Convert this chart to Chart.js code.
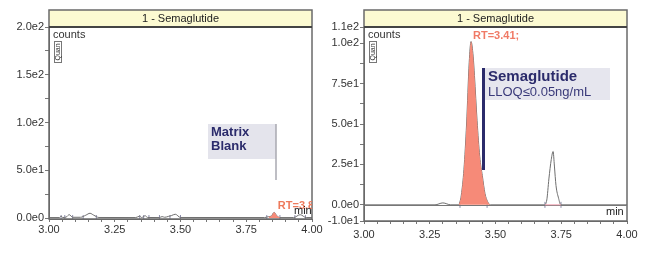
<!doctype html>
<html lang="en">

<head>
  <meta charset="utf-8">
  <title>Semaglutide chromatograms</title>
  <style>
    body { margin: 0; background: #fff; }
    .panel { position: absolute; top: 0; width: 325px; height: 255px; }
  </style>
</head>

<body>

  <div class="panel" style="left:0"><canvas id="blank-chart" width="325" height="255"></canvas></div>
  <div class="panel" style="left:325px"><canvas id="lloq-chart" width="325" height="255"></canvas></div>

  <script src="https://cdn.jsdelivr.net/npm/chart.js"></script>

  <script>
    // matrix blank trace (time in min, counts)
    const blankTimes = [3.00, 3.04, 3.046, 3.052, 3.065, 3.077, 3.09, 3.12, 3.14, 3.156, 3.17, 3.19,
      3.33, 3.345, 3.352, 3.36, 3.365, 3.375, 3.42, 3.43, 3.44, 3.455, 3.465, 3.48, 3.50,
      3.82, 3.835, 3.845, 3.856, 3.866, 3.878, 3.93, 3.955, 3.978, 4.00];
    const blankCounts = [0.5, 0.5, 2, 0.6, 1, 3.5, 0.8, 0.8, 3, 5, 3, 0.6,
      0.5, 2, 0.6, 1.5, 2.5, 0.6, 0.5, 1.5, 0.8, 1.8, 2.5, 4, 0.6,
      0.5, 1.5, 2, 6, 2.5, 0.5, 0.5, 3.5, 0.5, 0.5];
    const blankIntegration = [3.828, 3.878];
    const blankMarks = [3.046, 3.06, 3.09, 3.13, 3.18, 3.345, 3.36, 3.38, 3.42, 3.46, 3.50, 3.828, 3.878, 3.935, 3.975];

    // LLOQ sample trace
    const lloqTimes = [3.00, 3.27, 3.30, 3.33, 3.36, 3.365, 3.37, 3.38, 3.39, 3.40, 3.407, 3.415, 3.42, 3.43,
      3.44, 3.45, 3.46, 3.47, 3.48, 3.685, 3.695, 3.703, 3.712, 3.719, 3.724, 3.73, 3.74, 3.748, 4.00];
    const lloqCounts = [0, 0, 1.2, 0, 0, 2, 6, 22, 50, 88, 101, 92, 80, 52,
      30, 18, 7, 2, 0, 0, 3, 16, 28, 33, 24, 12, 4, 0, 0];
    const lloqIntegration = [3.36, 3.48];
    const lloqMarks = [3.365, 3.468, 3.688, 3.749];

    const xLabelTicks = [3.00, 3.25, 3.50, 3.75, 4.00];
    const blankYTicks = [0, 25, 50, 75, 100, 125, 150, 175, 200];
    const blankYLabels = [0, 50, 100, 150, 200];
    const lloqYTicks = [-10, 0, 12.5, 25, 37.5, 50, 62.5, 75, 87.5, 100, 110];
    const lloqYLabels = [-10, 0, 25, 50, 75, 100, 110];

    const FONT = "'Liberation Sans', Arial, sans-serif";
    const NAVY = '#2b2b6b';
    const SALMON = 'rgb(246, 138, 120)';

    function sci(v) {
      return v.toExponential(1).replace('e+', 'e');
    }

    function toPoints(times, values) {
      return times.map((t, i) => ({ x: t, y: values[i] }));
    }

    function inWindow(points, win) {
      return points.filter(p => p.x >= win[0] && p.x <= win[1]);
    }

    function makeDecor(extra) {
      return {
        id: 'decor',
        afterDraw(chart) {
          const ctx = chart.ctx;
          const a = chart.chartArea;
          const barTop = a.top - 17;
          ctx.save();
          // title bar
          ctx.fillStyle = '#fcfad2';
          ctx.fillRect(a.left, barTop, a.right - a.left, 17);
          ctx.strokeStyle = '#6a6a6a';
          ctx.lineWidth = 1.5;
          ctx.strokeRect(a.left, barTop, a.right - a.left, a.bottom - barTop);
          ctx.lineWidth = 2;
          ctx.strokeStyle = '#444';
          ctx.beginPath();
          ctx.moveTo(a.left, a.top);
          ctx.lineTo(a.right, a.top);
          ctx.stroke();
          ctx.fillStyle = '#222';
          ctx.font = '11px ' + FONT;
          ctx.textAlign = 'center';
          ctx.textBaseline = 'middle';
          ctx.fillText('1 - Semaglutide', (a.left + a.right) / 2, barTop + 9);

          // counts label and Quan box
          ctx.textAlign = 'left';
          ctx.fillStyle = '#333';
          ctx.font = '11px ' + FONT;
          ctx.fillText('counts', a.left + 4, a.top + 8);
          ctx.strokeStyle = '#777';
          ctx.lineWidth = 1;
          ctx.strokeRect(a.left + 5.5, a.top + 14.5, 7, 21);
          ctx.save();
          ctx.translate(a.left + 9, a.top + 25);
          ctx.rotate(-Math.PI / 2);
          ctx.font = '7px ' + FONT;
          ctx.textAlign = 'center';
          ctx.fillText('Quan', 0, 0);
          ctx.restore();

          extra(ctx, a, chart);
          ctx.restore();
        }
      };
    }

    function buildChart(target, cfg) {
      const trace = toPoints(cfg.times, cfg.values);
      const area = inWindow(trace, cfg.integration);
      const marks = cfg.marks.map(t => ({ x: t, y: 0 }));

      return new Chart(document.getElementById(target), {
        type: 'line',
        data: {
          datasets: [
            {
              data: area,
              fill: 'origin',
              backgroundColor: SALMON,
              borderColor: 'rgba(0,0,0,0)',
              borderWidth: 0,
              cubicInterpolationMode: 'monotone',
              pointRadius: 0
            },
            {
              data: trace,
              borderColor: '#6e6e6e',
              borderWidth: 1,
              cubicInterpolationMode: 'monotone',
              pointRadius: 0
            },
            {
              data: marks,
              showLine: false,
              pointStyle: 'line',
              rotation: 90,
              pointRadius: 3,
              borderColor: '#8a8aa8',
              borderWidth: 1
            }
          ]
        },
        options: {
          responsive: false,
          animation: false,
          devicePixelRatio: 1,
          layout: { padding: cfg.padding },
          scales: {
            x: {
              type: 'linear',
              min: 3,
              max: 4,
              afterFit: s => { s.height = 20; },
              afterBuildTicks: s => {
                const t = [];
                for (let i = 0; i <= 20; i++) t.push({ value: 3 + i * 0.05 });
                s.ticks = t;
              },
              grid: { drawOnChartArea: false, tickLength: 3, tickColor: '#777' },
              border: { color: '#6a6a6a' },
              ticks: {
                padding: cfg.xPad,
                autoSkip: false,
                maxRotation: 0,
                color: '#333',
                font: { family: FONT, size: 11 },
                callback: v => {
                  const hit = xLabelTicks.find(l => Math.abs(l - v) < 1e-6);
                  return hit === undefined ? '' : hit.toFixed(2);
                }
              }
            },
            y: {
              min: cfg.yMin,
              max: cfg.yMax,
              afterFit: s => { s.width = cfg.yWidth; },
              afterBuildTicks: s => { s.ticks = cfg.yTicks.map(v => ({ value: v })); },
              grid: { drawOnChartArea: false, tickLength: 4, tickColor: '#777' },
              border: { color: '#6a6a6a' },
              ticks: {
                padding: 1,
                autoSkip: false,
                color: '#333',
                font: { family: FONT, size: 11 },
                callback: v => cfg.yLabels.includes(v) ? sci(v) : ''
              }
            }
          },
          plugins: {
            legend: { display: false },
            tooltip: { enabled: false }
          }
        },
        plugins: [makeDecor(cfg.extra)]
      });
    }

    buildChart('blank-chart', {
      times: blankTimes,
      values: blankCounts,
      integration: blankIntegration,
      marks: blankMarks,
      yMin: -1,
      yMax: 200,
      yTicks: blankYTicks,
      yLabels: blankYLabels,
      yWidth: 49,
      xPad: 1,
      padding: { left: 0, right: 13, top: 27, bottom: 16 },
      extra: (ctx, a, chart) => {
        // Matrix Blank label
        ctx.fillStyle = '#e4e4ec';
        ctx.fillRect(a.left + 159, a.top + 97, 68, 35);
        ctx.strokeStyle = '#a8a8b0';
        ctx.lineWidth = 1.5;
        ctx.beginPath();
        ctx.moveTo(a.left + 227, a.top + 97);
        ctx.lineTo(a.left + 227, a.top + 153);
        ctx.stroke();
        ctx.fillStyle = NAVY;
        ctx.font = 'bold 13px ' + FONT;
        ctx.textAlign = 'left';
        ctx.textBaseline = 'middle';
        ctx.fillText('Matrix', a.left + 162, a.top + 105);
        ctx.fillText('Blank', a.left + 162, a.top + 119);

        // clipped RT label and min
        ctx.save();
        ctx.beginPath();
        ctx.rect(a.left, a.top, a.right - a.left, a.bottom - a.top);
        ctx.clip();
        ctx.fillStyle = '#ee7a5c';
        ctx.font = 'bold 11px ' + FONT;
        ctx.fillText('RT=3.86', chart.scales.x.getPixelForValue(3.87), a.bottom - 13);
        ctx.restore();
        ctx.fillStyle = '#222';
        ctx.font = '11px ' + FONT;
        ctx.fillText('min', a.right - 18, a.bottom - 8);
      }
    });

    buildChart('lloq-chart', {
      times: lloqTimes,
      values: lloqCounts,
      integration: lloqIntegration,
      marks: lloqMarks,
      yMin: -10,
      yMax: 110,
      yTicks: lloqYTicks,
      yLabels: lloqYLabels,
      yWidth: 39,
      xPad: 4,
      padding: { left: 0, right: 23, top: 27, bottom: 14 },
      extra: (ctx, a, chart) => {
        const x = chart.scales.x;
        const y = chart.scales.y;
        // zero line
        ctx.strokeStyle = '#777';
        ctx.lineWidth = 1;
        ctx.beginPath();
        ctx.moveTo(a.left, Math.round(y.getPixelForValue(0)) + 0.5);
        ctx.lineTo(a.right, Math.round(y.getPixelForValue(0)) + 0.5);
        ctx.stroke();
        // pink integration baseline of the second peak
        ctx.strokeStyle = '#f0a0b0';
        ctx.beginPath();
        ctx.moveTo(x.getPixelForValue(lloqMarks[2]), y.getPixelForValue(0));
        ctx.lineTo(x.getPixelForValue(lloqMarks[3]), y.getPixelForValue(0));
        ctx.stroke();

        ctx.fillStyle = '#f07a66';
        ctx.font = 'bold 11px ' + FONT;
        ctx.textAlign = 'left';
        ctx.textBaseline = 'middle';
        ctx.fillText('RT=3.41;', a.left + 109, a.top + 9);

        // Semaglutide label
        ctx.fillStyle = '#e6e6ee';
        ctx.fillRect(a.left + 121, a.top + 41, 125, 32);
        ctx.strokeStyle = NAVY;
        ctx.lineWidth = 3;
        ctx.beginPath();
        ctx.moveTo(a.left + 119.5, a.top + 41);
        ctx.lineTo(a.left + 119.5, a.top + 143);
        ctx.stroke();
        ctx.fillStyle = NAVY;
        ctx.font = 'bold 15px ' + FONT;
        ctx.fillText('Semaglutide', a.left + 124, a.top + 50);
        ctx.fillStyle = '#3a3a7a';
        ctx.font = '13px ' + FONT;
        ctx.fillText('LLOQ\u22640.05ng/mL', a.left + 124, a.top + 65);

        ctx.fillStyle = '#222';
        ctx.font = '11px ' + FONT;
        ctx.fillText('min', a.right - 21, a.bottom - 9);
      }
    });
  </script>

</body>

</html>
